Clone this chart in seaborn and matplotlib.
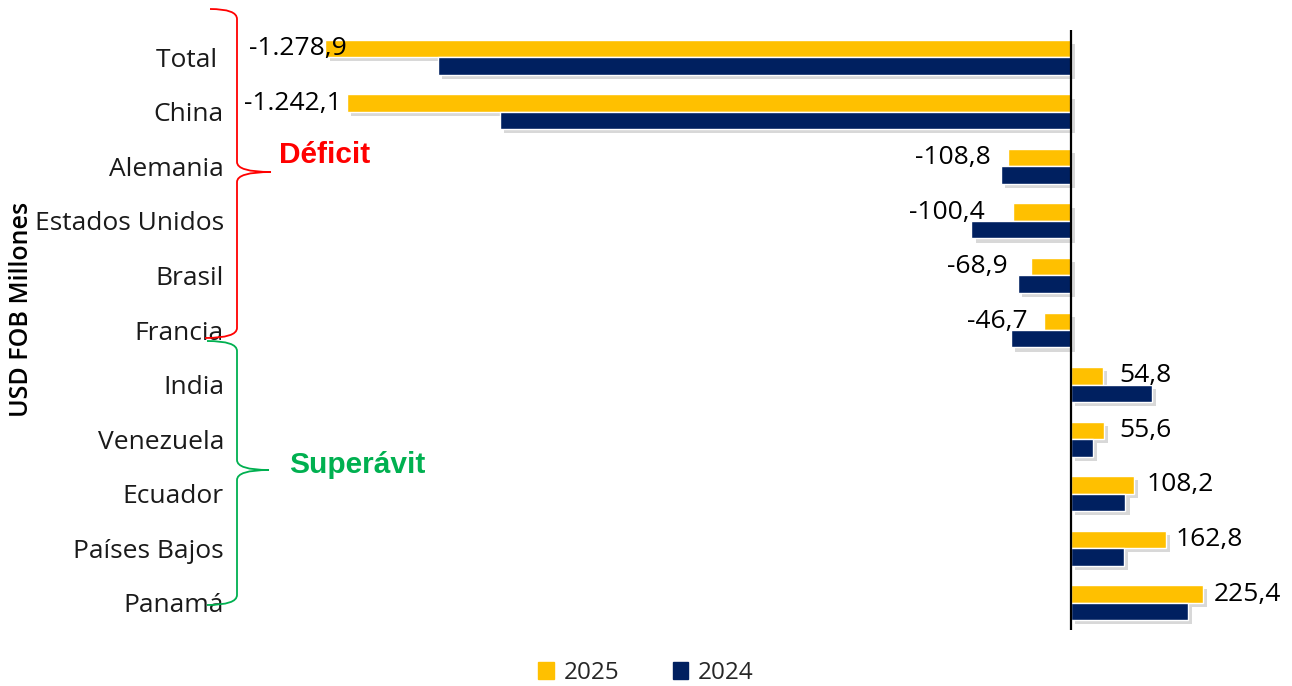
import pandas as pd
import matplotlib.pyplot as plt
import matplotlib.patheffects as pe
from matplotlib.path import Path
import matplotlib.patches as patches
import seaborn as sns

sns.set_style("white")
plt.rcParams["font.family"] = ["Open Sans", "DejaVu Sans"]

paises = ["Total ", "China", "Alemania", "Estados Unidos", "Brasil", "Francia",
          "India", "Venezuela", "Ecuador", "Países Bajos", "Panamá"]
v2025 = [-1278.9, -1242.1, -108.8, -100.4, -68.9, -46.7, 54.8, 55.6, 108.2, 162.8, 225.4]
v2024 = [-1086, -980, -120, -171, -91, -103, 139, 38, 93, 91, 200]

yellow = "#FFC000"
navy = "#002060"

df = pd.DataFrame({
    "pais": paises * 2,
    "valor": v2025 + v2024,
    "anio": ["2025"] * len(paises) + ["2024"] * len(paises),
})

W, H = 1292, 686
fig = plt.figure(figsize=(W / 100, H / 100), dpi=100)
ax = fig.add_axes([235 / W, 1 - 630 / H, (1270 - 235) / W, 600 / H])

sns.barplot(data=df, y="pais", x="valor", hue="anio", hue_order=["2025", "2024"],
            palette={"2025": yellow, "2024": navy}, orient="h", width=0.64,
            saturation=1, legend=False, ax=ax)

shadow = [pe.SimplePatchShadow(offset=(3, -3), shadow_rgbFace="0.5", alpha=0.3), pe.Normal()]
for bar in ax.patches:
    bar.set_path_effects(shadow)

ax.set_xlim(-1434, 341)
ax.set_ylim(10.5, -0.5)
ax.axvline(0, color="black", lw=1.6)
for s in ax.spines.values():
    s.set_visible(False)
ax.set_xticks([])
ax.set_xlabel("")
ax.tick_params(axis="y", length=0, pad=8, labelsize=19, labelcolor="#1a1a1a")
ax.set_ylabel("USD FOB Millones", fontsize=18, fontweight="semibold", color="black")
ax.yaxis.set_label_coords(-0.194, 0.535)

# data labels (2025), offsets in points as placed in the original
etiquetas = [f"{v:,.1f}".replace(",", "X").replace(".", ",").replace("X", ".") for v in v2025]
pads = [-15, 4, 12, 20, 17, 12, 12, 11, 9, 7, 8]
for bar, txt, v, p in zip(ax.containers[0], etiquetas, v2025, pads):
    y = bar.get_y() + bar.get_height() / 2
    sign = 1 if v > 0 else -1
    ax.annotate(txt, (v, y), xytext=(sign * p, 0), textcoords="offset points",
                ha="left" if v > 0 else "right", va="center", fontsize=19, color="black")


def brace(x, y_top, y_bot, y_tip, tip_x, hook_top, hook_bot, color):
    r = 10
    pts = [(hook_top, y_top), (x, y_top), (x, y_top + r),
           (x, y_tip - r), (x, y_tip), (tip_x, y_tip),
           (x, y_tip), (x, y_tip + r),
           (x, y_bot - r), (x, y_bot), (hook_bot, y_bot)]
    codes = [Path.MOVETO, Path.CURVE3, Path.CURVE3,
             Path.LINETO, Path.CURVE3, Path.CURVE3,
             Path.CURVE3, Path.CURVE3,
             Path.LINETO, Path.CURVE3, Path.CURVE3]
    verts = [(px / W, 1 - py / H) for px, py in pts]
    fig.add_artist(patches.PathPatch(Path(verts, codes), fill=False, edgecolor=color,
                                     lw=1.3, transform=fig.transFigure))


brace(237, 9, 338, 172, 271, 210, 205, "#FF0000")
brace(237, 341, 605, 470, 269, 207, 207, "#00B050")

fig.text(325 / W, 1 - 155 / H, "Déficit", color="#FF0000", fontsize=21.5, fontweight="bold",
         family="Liberation Sans", ha="center", va="center")
fig.text(357 / W, 1 - 465 / H, "Superávit", color="#00B050", fontsize=21.5, fontweight="bold",
         family="Liberation Sans", ha="center", va="center")

handles = [patches.Patch(color=yellow), patches.Patch(color=navy)]
fig.legend(handles, ["2025", "2024"], loc="center", bbox_to_anchor=(646 / W, 1 - 673 / H), ncol=2,
           frameon=False, handlelength=0.65, handleheight=0.65, handletextpad=0.4,
           columnspacing=2.2, fontsize=17.5)

fig.savefig("out.png", dpi=100)
